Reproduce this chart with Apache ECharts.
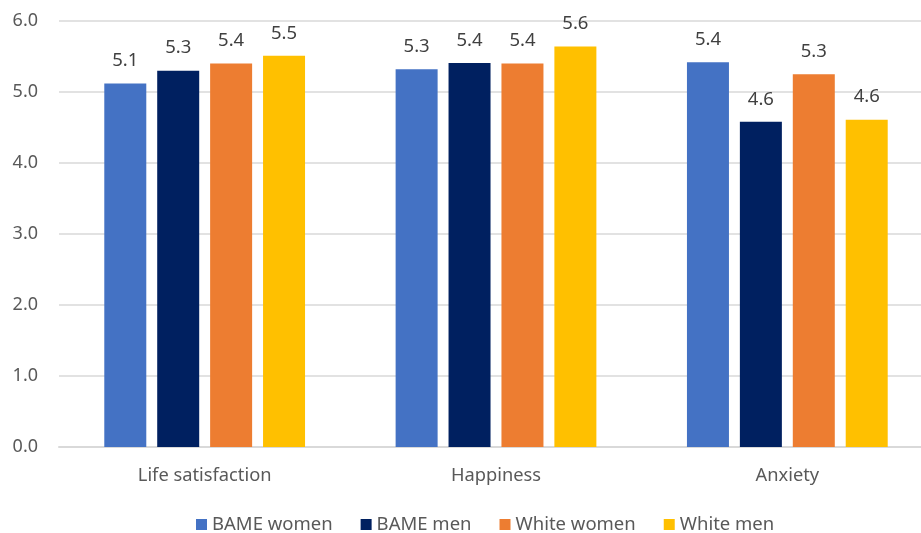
<!DOCTYPE html>
<html>
<head>
<meta charset="utf-8">
<script src="https://cdn.jsdelivr.net/npm/echarts@6/dist/echarts.min.js"></script>
<style>
html,body{margin:0;padding:0;background:#fff;overflow:hidden;}
#chart{width:933px;height:533px;}
</style>
</head>
<body>
<div id="chart"></div>
<script>
const categories = ['Life satisfaction', 'Happiness', 'Anxiety'];
const seriesNames = ['BAME women', 'BAME men', 'White women', 'White men'];
const bameWomen = [5.12, 5.32, 5.42];
const bameMen = [5.30, 5.41, 4.58];
const whiteWomen = [5.40, 5.40, 5.25];
const whiteMen = [5.51, 5.64, 4.61];
const yTicks = [0, 1, 2, 3, 4, 5, 6];

const colors = ['#4472C4', '#002060', '#ED7D31', '#FFC000'];
const values = [bameWomen, bameMen, whiteWomen, whiteMen];
const FONT = '"Noto Sans", sans-serif';

const chart = echarts.init(document.getElementById('chart'), null, {renderer: 'canvas'});
chart.setOption({
  animation: false,
  backgroundColor: '#fff',
  color: colors,
  textStyle: {fontFamily: FONT},
  grid: {left: 59, right: 0, top: 21, height: 426, containLabel: false},
  legend: {
    top: 510,
    left: 191,
    itemWidth: 11,
    itemHeight: 11,
    itemGap: 28,
    icon: 'rect',
    textStyle: {color: '#595959', fontSize: 18.5, fontFamily: FONT},
    data: seriesNames
  },
  xAxis: {
    type: 'category',
    data: categories,
    axisLine: {lineStyle: {color: '#D9D9D9', width: 2}},
    axisTick: {show: false},
    axisLabel: {color: '#595959', fontSize: 18.3, margin: 20, fontFamily: FONT}
  },
  yAxis: {
    type: 'value',
    min: yTicks[0],
    max: yTicks[yTicks.length - 1],
    interval: 1,
    axisLine: {show: false},
    axisTick: {show: false},
    splitLine: {lineStyle: {color: '#D9D9D9', width: 1.5}},
    axisLabel: {color: '#595959', fontSize: 18, margin: 21, fontFamily: FONT,
      formatter: v => v.toFixed(1)}
  },
  series: seriesNames.map((name, i) => ({
    name: name,
    type: 'bar',
    data: values[i],
    barWidth: 42,
    barGap: '26%',
    itemStyle: {color: colors[i]},
    label: {
      show: true,
      position: 'top',
      distance: 13,
      color: '#404040',
      fontSize: 18.5,
      fontFamily: FONT,
      formatter: p => p.value.toFixed(1)
    }
  }))
});
</script>
</body>
</html>
